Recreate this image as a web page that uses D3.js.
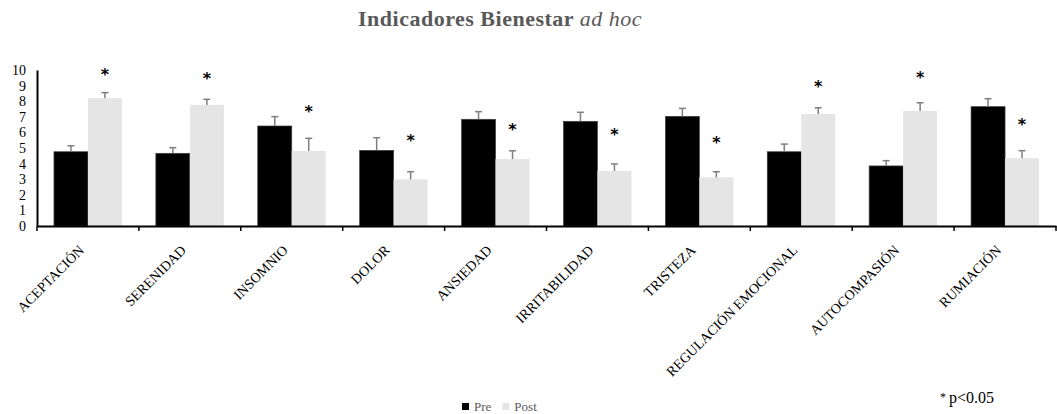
<!DOCTYPE html>
<html>
<head>
<meta charset="utf-8">
<script src="https://cdn.jsdelivr.net/npm/d3@7"></script>
<style>
  body { margin: 0; background: #fff; }
  svg { display: block; }
  svg text { font-family: "Palatino Linotype", "Book Antiqua", Palatino, "Liberation Serif", serif; }
</style>
</head>
<body>
<div id="vis"></div>
<script>
var categories = ["ACEPTACIÓN", "SERENIDAD", "INSOMNIO", "DOLOR", "ANSIEDAD", "IRRITABILIDAD",
    "TRISTEZA", "REGULACIÓN EMOCIONAL", "AUTOCOMPASIÓN", "RUMIACIÓN"];
var preValues = [4.76, 4.66, 6.41, 4.85, 6.84, 6.71, 7.03, 4.76, 3.85, 7.65];
var preErrors = [0.38, 0.36, 0.60, 0.81, 0.49, 0.58, 0.51, 0.49, 0.34, 0.51];
var postValues = [8.19, 7.76, 4.81, 2.99, 4.29, 3.53, 3.12, 7.18, 7.37, 4.34];
var postErrors = [0.36, 0.36, 0.81, 0.49, 0.53, 0.45, 0.36, 0.40, 0.53, 0.49];
// level (in axis units) where each significance star sits
var starLevels = [9.96, 9.68, 7.56, 5.71, 6.41, 6.09, 5.58, 9.15, 9.72, 6.73];
var yTicks = [0, 1, 2, 3, 4, 5, 6, 7, 8, 9, 10];
var seriesNames = ["Pre", "Post"];

var colors = { "Pre": "#000000", "Post": "#e5e5e5" };

var width = 1057, height = 414;
var margin = { left: 37, right: 1, top: 70, bottom: 188 };

var svg = d3.select("#vis").append("svg")
    .attr("width", width)
    .attr("height", height);

var x = d3.scaleBand()
    .domain(categories)
    .range([margin.left, width - margin.right])
    .paddingInner(0.333)
    .paddingOuter(0.1665);

var band = d3.scaleBand()
    .domain(seriesNames)
    .range([0, x.bandwidth()]);

var y = d3.scaleLinear()
    .domain([0, 10])
    .range([height - margin.bottom, margin.top]);

// title
var title = svg.append("text")
    .attr("x", 500)
    .attr("y", 26)
    .attr("text-anchor", "middle")
    .style("font-size", "22px")
    .style("letter-spacing", "0.5px")
    .style("font-weight", "bold")
    .style("fill", "#595959");
title.append("tspan").text("Indicadores Bienestar ");
title.append("tspan").style("font-style", "italic").style("font-weight", "normal").text("ad hoc");

var rows = categories.map(function(c, i) {
    return [
        { cat: c, s: "Pre", v: preValues[i], e: preErrors[i] },
        { cat: c, s: "Post", v: postValues[i], e: postErrors[i] }
    ];
});
var flat = [].concat.apply([], rows);

var groups = svg.selectAll(".bar")
    .data(flat)
    .enter().append("g").attr("class", "bar");

groups.append("rect")
    .attr("x", d => x(d.cat) + band(d.s))
    .attr("width", band.bandwidth())
    .attr("y", d => y(d.v))
    .attr("height", d => y(0) - y(d.v))
    .style("fill", d => colors[d.s])
    .style("stroke", d => d.s == "Pre" ? "#404040" : "none")
    .style("stroke-width", 0.7);

// error bars (upper only)
groups.append("line")
    .attr("x1", d => x(d.cat) + band(d.s) + band.bandwidth() / 2)
    .attr("x2", d => x(d.cat) + band(d.s) + band.bandwidth() / 2)
    .attr("y1", d => y(d.v))
    .attr("y2", d => y(d.v + d.e))
    .style("stroke", "#7f7f7f")
    .style("stroke-width", 1.5);

groups.append("line")
    .attr("x1", d => x(d.cat) + band(d.s) + band.bandwidth() / 2 - 3.5)
    .attr("x2", d => x(d.cat) + band(d.s) + band.bandwidth() / 2 + 3.5)
    .attr("y1", d => y(d.v + d.e))
    .attr("y2", d => y(d.v + d.e))
    .style("stroke", "#7f7f7f")
    .style("stroke-width", 1.5);

// stars
svg.selectAll(".star")
    .data(categories)
    .enter().append("text")
    .attr("class", "star")
    .attr("x", d => x(d) + band("Post") + band.bandwidth() / 2)
    .attr("y", (d, i) => y(starLevels[i]) + 9)
    .attr("text-anchor", "middle")
    .style("font-family", "'DejaVu Sans', sans-serif")
    .style("font-size", "16px")
    .style("font-weight", "bold")
    .style("fill", "#000")
    .text("*");

// y axis
var yAxis = svg.append("g")
    .attr("transform", "translate(" + margin.left + ",0)")
    .call(d3.axisLeft(y).tickValues(yTicks).tickSize(0).tickPadding(11));
yAxis.attr("font-family", null);
yAxis.select(".domain").style("stroke", "#000").style("stroke-width", 2);
yAxis.selectAll("text")
    .style("font-size", "14px")
    .style("fill", "#000");

// x axis
var xAxis = svg.append("g")
    .attr("transform", "translate(0," + y(0) + ")")
    .call(d3.axisBottom(x).tickSize(0));
xAxis.attr("font-family", null);
xAxis.select(".domain").style("stroke", "#000").style("stroke-width", 2);
xAxis.selectAll(".tick").remove();

var boundaries = d3.range(categories.length + 1).map(i =>
    i < categories.length ? x(categories[i]) - x.step() * x.paddingInner() / 2 : x.range()[1]);
xAxis.selectAll(".sep")
    .data(boundaries)
    .enter().append("line")
    .attr("x1", d => d).attr("x2", d => d)
    .attr("y1", 0).attr("y2", 5)
    .style("stroke", "#000")
    .style("stroke-width", 1.5);

xAxis.selectAll(".lbl")
    .data(categories)
    .enter().append("text")
    .attr("text-anchor", "end")
    .attr("transform", d => "translate(" + (x(d) + x.bandwidth() / 2 - 3) + ",25)rotate(-45)")
    .style("font-size", "14px")
    .style("fill", "#000")
    .text(d => d);

// legend
var legend = svg.append("g").attr("transform", "translate(462,403)");
var lx = 0;
seriesNames.forEach(function(s) {
    legend.append("rect")
        .attr("x", lx).attr("y", 0)
        .attr("width", 7).attr("height", 7)
        .style("fill", colors[s]);
    var t = legend.append("text")
        .attr("x", lx + 12).attr("y", 8)
        .style("font-size", "13px")
        .style("fill", "#595959")
        .text(s);
    lx += 12 + t.node().getComputedTextLength() + 11;
});

// note
var note = svg.append("text")
    .attr("x", 940)
    .attr("y", 403)
    .style("font-size", "16px")
    .style("fill", "#000");
note.append("tspan").style("font-size", "12px").attr("dy", -2).text("* ");
note.append("tspan").attr("dy", 2).text("p<0.05");
</script>
</body>
</html>
